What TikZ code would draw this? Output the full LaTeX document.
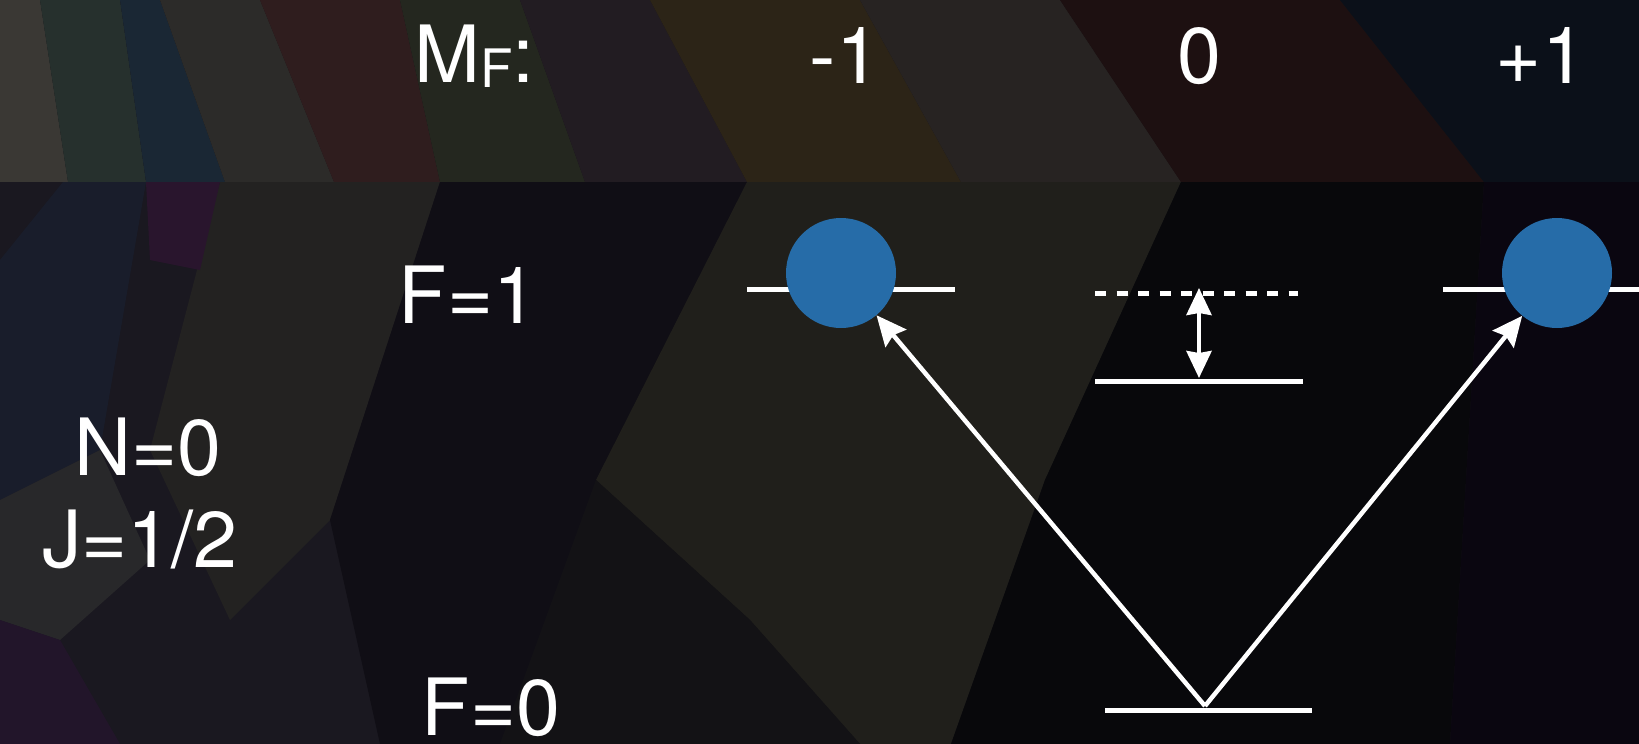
\documentclass[tikz,border=0pt]{standalone}
\usepackage{fontspec}
\setmainfont{TeX Gyre Heros}
\usetikzlibrary{arrows.meta}
\definecolor{atom}{RGB}{38,108,168}
\definecolor{bgbase}{HTML}{141217}
\definecolor{t1}{HTML}{3A3834}
\definecolor{t2}{HTML}{26302D}
\definecolor{t3}{HTML}{1A2734}
\definecolor{t4}{HTML}{2C2B29}
\definecolor{t5}{HTML}{2F1D1E}
\definecolor{t6}{HTML}{24271F}
\definecolor{t7}{HTML}{221C22}
\definecolor{t8}{HTML}{2C2417}
\definecolor{t9}{HTML}{272322}
\definecolor{t10}{HTML}{1D1011}
\definecolor{t11}{HTML}{0B1019}
\definecolor{mOlive}{HTML}{201F1B}
\definecolor{mDark}{HTML}{100E15}
\definecolor{mDark2}{HTML}{131215}
\definecolor{mBlack}{HTML}{08080B}
\definecolor{mPurpBlack}{HTML}{0A0610}
\definecolor{mGray}{HTML}{232221}
\definecolor{mBlue}{HTML}{191D2B}
\definecolor{mPurp}{HTML}{29152D}
\definecolor{mPurp2}{HTML}{22152A}
\definecolor{mLeft}{HTML}{1A1820}
\definecolor{mGray2}{HTML}{28282A}
\tikzset{
  lvl/.style={white, line width=5pt},
  dashlvl/.style={white, line width=5pt, dash pattern=on 11pt off 10.5pt},
  trans/.style={white, line width=4.5pt, -{Stealth[length=30pt,width=27pt,inset=4pt]}},
  split/.style={white, line width=4pt, {Stealth[length=27pt,width=25pt,inset=2pt]}-{Stealth[length=27pt,width=25pt,inset=2pt]}},
  atomdot/.style={circle, fill=atom, minimum size=110pt, inner sep=0pt},
  lbl/.style={text=white, inner sep=0pt, font=\fontsize{79}{90}\selectfont},
}
\begin{document}
\begin{tikzpicture}[x=1pt,y=-1pt]
\useasboundingbox (0,0) rectangle (1639,744);
\begin{scope}
\clip (0,0) rectangle (1639,744);
\fill[bgbase] (0,0) rectangle (1639,744);
% top band
\fill[t1] (0,0) -- (40,0) -- (68,182) -- (0,182) -- cycle;
\fill[t2] (40,0) -- (120,0) -- (146,182) -- (68,182) -- cycle;
\fill[t3] (120,0) -- (160,0) -- (225,182) -- (146,182) -- cycle;
\fill[t4] (160,0) -- (260,0) -- (334,182) -- (225,182) -- cycle;
\fill[t5] (260,0) -- (400,0) -- (440,182) -- (334,182) -- cycle;
\fill[t6] (400,0) -- (520,0) -- (585,182) -- (440,182) -- cycle;
\fill[t7] (520,0) -- (650,0) -- (747,182) -- (585,182) -- cycle;
\fill[t8] (650,0) -- (860,0) -- (961,182) -- (747,182) -- cycle;
\fill[t9] (860,0) -- (1060,0) -- (1181,182) -- (961,182) -- cycle;
\fill[t10] (1060,0) -- (1340,0) -- (1484,182) -- (1181,182) -- cycle;
\fill[t11] (1340,0) -- (1639,0) -- (1639,182) -- (1484,182) -- cycle;
% middle and bottom
\fill[mLeft] (0,182) rectangle (440,744);
\fill[mBlue] (0,260) -- (63,182) -- (146,182) -- (100,450) -- (0,500) -- cycle;
\fill[mGray] (220,182) -- (440,182) -- (330,520) -- (230,620) -- (150,450) -- cycle;
\fill[mPurp] (146,182) -- (220,182) -- (200,270) -- (150,260) -- cycle;
\fill[mGray2] (0,500) -- (100,450) -- (150,560) -- (60,640) -- (0,620) -- cycle;
\fill[mPurp2] (0,620) -- (60,640) -- (120,744) -- (0,744) -- cycle;
\fill[mDark] (440,182) -- (747,182) -- (596,480) -- (500,744) -- (380,744) -- (330,520) -- cycle;
\fill[mOlive] (747,182) -- (1181,182) -- (1045,480) -- (951,744) -- (860,744) -- (750,620) -- (596,480) -- cycle;
\fill[mDark2] (596,480) -- (750,620) -- (860,744) -- (500,744) -- cycle;
\fill[mBlack] (1181,182) -- (1484,182) -- (1450,744) -- (951,744) -- (1045,480) -- cycle;
\fill[mPurpBlack] (1484,182) -- (1639,182) -- (1639,744) -- (1450,744) -- cycle;
\end{scope}

% labels
\node[lbl, anchor=base west] (mf) at (414,82) {M\raisebox{-5pt}{\fontsize{53}{60}\selectfont F}:};
\node[lbl, anchor=base] (mneg) at (845,83) {-1};
\node[lbl, anchor=base] (mzero) at (1199,83) {0};
\node[lbl, anchor=base] (mpos) at (1541,83) {+1};
\node[lbl, anchor=base] (fone) at (468,323) {F=1};
\node[lbl, anchor=base] (nzero) at (148,475) {N=0};
\node[lbl, anchor=base] (jhalf) at (140,567) {J=1/2};
\node[lbl, anchor=base] (fzero) at (491,735) {F=0};

% level coordinates
\coordinate (aL) at (747,289);
\coordinate (aR) at (955,289);
\coordinate (bL) at (1095,293);
\coordinate (bR) at (1298,293);
\coordinate (cL) at (1095,381);
\coordinate (cR) at (1303,381);
\coordinate (dL) at (1443,289);
\coordinate (dR) at (1645,289);
\coordinate (gL) at (1105,710);
\coordinate (gR) at (1312,710);
\coordinate (g) at (1205,706);
\coordinate (up) at (1199,288);
\coordinate (dn) at (1199,378);

\draw[lvl] (aL) -- (aR);
\draw[dashlvl] (bL) -- (bR);
\draw[lvl] (cL) -- (cR);
\draw[lvl] (dL) -- (dR);
\draw[lvl] (gL) -- (gR);

\node[atomdot] (atomA) at (841,273) {};
\node[atomdot] (atomB) at (1557,273) {};

\draw[trans] (g) -- (atomA);
\draw[trans] (g) -- (atomB);
\draw[split] (dn) -- (up);
\end{tikzpicture}
\end{document}
